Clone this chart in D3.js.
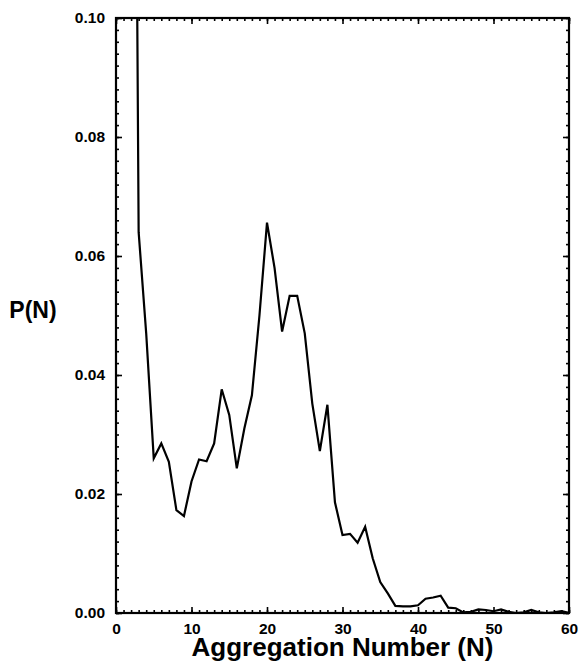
<!DOCTYPE html>
<html>
<head>
<meta charset="utf-8">
<script src="https://cdn.jsdelivr.net/npm/d3@7"></script>
<style>
  html, body { margin: 0; padding: 0; background: #fff; }
  svg { display: block; }
  text { font-family: "Liberation Sans", Arial, Helvetica, sans-serif; font-weight: bold; fill: #000; }
</style>
</head>
<body>
<div id="chart"></div>
<script>
// aggregation number N and probability P(N)
const N_VALUES = [2, 3, 4, 5, 6, 7, 8, 9, 10, 11, 12, 13, 14, 15, 16, 17, 18, 19, 20,
  21, 22, 23, 24, 25, 26, 27, 28, 29, 30, 31, 32, 33, 34, 35, 36, 37, 38, 39, 40,
  41, 42, 43, 44, 45, 46, 47, 48, 49, 50, 51, 52, 53, 54, 55, 56, 57, 58, 59, 60]
const P_VALUES = [0.26, 0.064, 0.047, 0.026, 0.0285, 0.0254, 0.0173, 0.0163, 0.0221,
  0.0258, 0.0255, 0.0285, 0.0376, 0.0333, 0.0243, 0.031, 0.0366, 0.050, 0.0656,
  0.058, 0.0473, 0.0533, 0.0533, 0.047, 0.0352, 0.0272, 0.035, 0.0186, 0.0131,
  0.0133, 0.0118, 0.0145, 0.0092, 0.0052, 0.0033, 0.0012, 0.0011, 0.0011, 0.0013,
  0.0024, 0.0026, 0.0029, 0.0009, 0.0008, 0.0001, 0.0002, 0.0006, 0.0005, 0.0003,
  0.0006, 0.0002, 0.0, 0.0001, 0.0005, 0.0001, 0.0, 0.0001, 0.0003, 0.0]

const X_TICKS = [0, 10, 20, 30, 40, 50, 60]
const Y_TICKS = [0, 0.02, 0.04, 0.06, 0.08, 0.10]
const X_LABEL = 'Aggregation Number (N)'
const Y_LABEL = 'P(N)'

const W = 581, H = 661
const MARGIN = { top: 18, right: 12, bottom: 48, left: 116 }
const innerW = W - MARGIN.left - MARGIN.right
const innerH = H - MARGIN.top - MARGIN.bottom

const x = d3.scaleLinear().domain([0, 60]).range([0, innerW])
const y = d3.scaleLinear().domain([0, 0.10]).range([innerH, 0])

const svg = d3.select('#chart').append('svg')
  .attr('width', W).attr('height', H)

svg.append('defs').append('clipPath').attr('id', 'plot-clip')
  .append('rect').attr('width', innerW).attr('height', innerH)

const g = svg.append('g').attr('transform', `translate(${MARGIN.left},${MARGIN.top})`)

const minorX = d3.range(0, 61, 1)
const minorY = d3.range(0, 0.1001, 0.002)

function styleAxis(sel) {
  sel.select('.domain').remove()
  sel.selectAll('line').attr('stroke', '#000').attr('stroke-width', 1.6)
}

// minor ticks, all four sides, pointing inward
g.append('g').attr('transform', `translate(0,${innerH})`)
  .call(d3.axisBottom(x).tickValues(minorX).tickSize(-3).tickFormat(''))
  .call(styleAxis)
g.append('g')
  .call(d3.axisTop(x).tickValues(minorX).tickSize(-3).tickFormat(''))
  .call(styleAxis)
g.append('g')
  .call(d3.axisLeft(y).tickValues(minorY).tickSize(-3).tickFormat(''))
  .call(styleAxis)
g.append('g').attr('transform', `translate(${innerW},0)`)
  .call(d3.axisRight(y).tickValues(minorY).tickSize(-3).tickFormat(''))
  .call(styleAxis)

// major ticks
g.append('g').attr('class', 'x-axis').attr('transform', `translate(0,${innerH})`)
  .call(d3.axisBottom(x).tickValues(X_TICKS).tickSize(-6).tickPadding(10).tickFormat(d3.format('d')))
  .call(styleAxis)
  .call(s => s.selectAll('text').attr('font-size', 15.5).attr('dy', '0.71em'))
g.append('g')
  .call(d3.axisTop(x).tickValues(X_TICKS).tickSize(-6).tickFormat(''))
  .call(styleAxis)
g.append('g').attr('class', 'y-axis')
  .call(d3.axisLeft(y).tickValues(Y_TICKS).tickSize(-6).tickPadding(11).tickFormat(d3.format('.2f')))
  .call(styleAxis)
  .call(s => s.selectAll('text').attr('font-size', 15.5))
g.append('g').attr('transform', `translate(${innerW},0)`)
  .call(d3.axisRight(y).tickValues(Y_TICKS).tickSize(-6).tickFormat(''))
  .call(styleAxis)

// frame
g.append('rect')
  .attr('width', innerW).attr('height', innerH)
  .attr('fill', 'none').attr('stroke', '#000').attr('stroke-width', 2.2)

// the distribution curve
const line = d3.line()
  .x((d, i) => x(N_VALUES[i]))
  .y(d => y(d))
g.append('path')
  .datum(P_VALUES)
  .attr('clip-path', 'url(#plot-clip)')
  .attr('fill', 'none')
  .attr('stroke', '#000')
  .attr('stroke-width', 2.2)
  .attr('stroke-linejoin', 'miter')
  .attr('d', line)

// axis titles
svg.append('text')
  .attr('x', MARGIN.left + innerW / 2).attr('y', 656)
  .attr('text-anchor', 'middle')
  .attr('font-size', 26)
  .text(X_LABEL)
svg.append('text')
  .attr('x', 33).attr('y', 318)
  .attr('text-anchor', 'middle')
  .attr('font-size', 23)
  .text(Y_LABEL)
</script>
</body>
</html>
